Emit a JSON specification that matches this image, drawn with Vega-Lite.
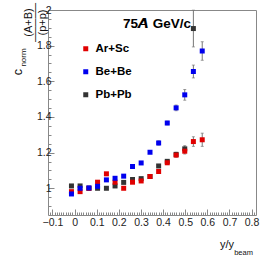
{
  "$schema": "https://vega.github.io/schema/vega-lite/v6.json",
  "width": 208,
  "height": 205,
  "autosize": {"type": "none"},
  "padding": {"left": 48, "top": 10, "right": 10, "bottom": 41},
  "background": "white",
  "config": {
    "view": {"stroke": "#888", "strokeWidth": 1},
    "font": "Liberation Sans",
    "axis": {"grid": false, "domain": false, "labelFont": "Liberation Sans", "titleFont": "Liberation Sans", "titleFontWeight": "normal", "titleColor": "#111", "labelColor": "#222", "tickColor": "#888", "titleAnchor": null}
  },
  "title": {"text": "75𝘼 GeV/c", "fontSize": 13.5, "fontWeight": "bold", "font": "Liberation Sans", "anchor": "start", "dx": 75, "dy": 22, "offset": -17, "baseline": "alphabetic", "color": "#000", "frame": "group"},
  "data": {"values": [
    {"x": -0.014, "c": 1.013, "err": 0.006, "sys": "Pb+Pb"},
    {"x": 0.025, "c": 1.013, "err": 0.006, "sys": "Pb+Pb"},
    {"x": 0.065, "c": 1.0, "err": 0.006, "sys": "Pb+Pb"},
    {"x": 0.104, "c": 1.0, "err": 0.006, "sys": "Pb+Pb"},
    {"x": 0.144, "c": 1.0, "err": 0.006, "sys": "Pb+Pb"},
    {"x": 0.183, "c": 1.013, "err": 0.006, "sys": "Pb+Pb"},
    {"x": 0.222, "c": 1.033, "err": 0.006, "sys": "Pb+Pb"},
    {"x": 0.262, "c": 1.049, "err": 0.006, "sys": "Pb+Pb"},
    {"x": 0.301, "c": 1.054, "err": 0.006, "sys": "Pb+Pb"},
    {"x": 0.341, "c": 1.066, "err": 0.006, "sys": "Pb+Pb"},
    {"x": 0.380, "c": 1.125, "err": 0.008, "sys": "Pb+Pb"},
    {"x": 0.419, "c": 1.151, "err": 0.008, "sys": "Pb+Pb"},
    {"x": 0.459, "c": 1.19, "err": 0.012, "sys": "Pb+Pb"},
    {"x": 0.498, "c": 1.221, "err": 0.018, "sys": "Pb+Pb"},
    {"x": 0.537, "c": 1.896, "err": 0.103, "sys": "Pb+Pb"},
    {"x": -0.014, "c": 0.981, "err": 0.006, "sys": "Ar+Sc"},
    {"x": 0.025, "c": 0.981, "err": 0.006, "sys": "Ar+Sc"},
    {"x": 0.065, "c": 1.0, "err": 0.006, "sys": "Ar+Sc"},
    {"x": 0.104, "c": 1.034, "err": 0.006, "sys": "Ar+Sc"},
    {"x": 0.144, "c": 1.081, "err": 0.006, "sys": "Ar+Sc"},
    {"x": 0.183, "c": 1.034, "err": 0.006, "sys": "Ar+Sc"},
    {"x": 0.222, "c": 1.0, "err": 0.006, "sys": "Ar+Sc"},
    {"x": 0.262, "c": 1.034, "err": 0.006, "sys": "Ar+Sc"},
    {"x": 0.301, "c": 1.041, "err": 0.006, "sys": "Ar+Sc"},
    {"x": 0.341, "c": 1.066, "err": 0.006, "sys": "Ar+Sc"},
    {"x": 0.380, "c": 1.094, "err": 0.006, "sys": "Ar+Sc"},
    {"x": 0.419, "c": 1.143, "err": 0.01, "sys": "Ar+Sc"},
    {"x": 0.459, "c": 1.186, "err": 0.012, "sys": "Ar+Sc"},
    {"x": 0.498, "c": 1.208, "err": 0.016, "sys": "Ar+Sc"},
    {"x": 0.537, "c": 1.262, "err": 0.027, "sys": "Ar+Sc"},
    {"x": 0.577, "c": 1.272, "err": 0.037, "sys": "Ar+Sc"},
    {"x": -0.014, "c": 0.968, "err": 0.006, "sys": "Be+Be"},
    {"x": 0.025, "c": 1.0, "err": 0.006, "sys": "Be+Be"},
    {"x": 0.065, "c": 1.002, "err": 0.006, "sys": "Be+Be"},
    {"x": 0.104, "c": 1.011, "err": 0.006, "sys": "Be+Be"},
    {"x": 0.144, "c": 1.047, "err": 0.006, "sys": "Be+Be"},
    {"x": 0.183, "c": 1.056, "err": 0.006, "sys": "Be+Be"},
    {"x": 0.222, "c": 1.068, "err": 0.006, "sys": "Be+Be"},
    {"x": 0.262, "c": 1.122, "err": 0.006, "sys": "Be+Be"},
    {"x": 0.301, "c": 1.142, "err": 0.006, "sys": "Be+Be"},
    {"x": 0.341, "c": 1.202, "err": 0.006, "sys": "Be+Be"},
    {"x": 0.380, "c": 1.254, "err": 0.012, "sys": "Be+Be"},
    {"x": 0.419, "c": 1.366, "err": 0.01, "sys": "Be+Be"},
    {"x": 0.459, "c": 1.451, "err": 0.016, "sys": "Be+Be"},
    {"x": 0.498, "c": 1.524, "err": 0.03, "sys": "Be+Be"},
    {"x": 0.537, "c": 1.655, "err": 0.036, "sys": "Be+Be"},
    {"x": 0.577, "c": 1.770, "err": 0.052, "sys": "Be+Be"}
  ]},
  "resolve": {"axis": {"x": "independent", "y": "independent"}},
  "layer": [
    {
      "mark": {"type": "errorbar", "color": "#777", "thickness": 1, "ticks": {"size": 3, "color": "#777"}},
      "encoding": {
        "x": {"field": "x", "type": "quantitative", "scale": {"domain": [-0.12, 0.82], "nice": false, "zero": false},
          "axis": {"orient": "bottom", "values": [-0.11,-0.1,-0.09,-0.08,-0.07,-0.06,-0.05,-0.04,-0.03,-0.02,-0.01,0,0.01,0.02,0.03,0.04,0.05,0.06,0.07,0.08,0.09,0.1,0.11,0.12,0.13,0.14,0.15,0.16,0.17,0.18,0.19,0.2,0.21,0.22,0.23,0.24,0.25,0.26,0.27,0.28,0.29,0.3,0.31,0.32,0.33,0.34,0.35,0.36,0.37,0.38,0.39,0.4,0.41,0.42,0.43,0.44,0.45,0.46,0.47,0.48,0.49,0.5,0.51,0.52,0.53,0.54,0.55,0.56,0.57,0.58,0.59,0.6,0.61,0.62,0.63,0.64,0.65,0.66,0.67,0.68,0.69,0.7,0.71,0.72,0.73,0.74,0.75,0.76,0.77,0.78,0.79,0.8,0.81],
            "labelExpr": "abs(datum.value*10 - round(datum.value*10)) < 0.001 ? format(datum.value, '~g') : ''",
            "tickSize": {"condition": {"test": "abs(datum.value*10 - round(datum.value*10)) < 0.001", "value": -6}, "value": -3},
            "labelFontSize": 10.5, "labelPadding": 8, "labelOverlap": false, "labelBound": false, "labelFlush": false,
            "title": "y/y", "titleFontSize": 11, "titleX": 178.5, "titleY": 32, "titleAlign": "center", "titleBaseline": "alphabetic"}},
        "y": {"field": "c", "type": "quantitative", "scale": {"domain": [0.85, 2.0], "nice": false, "zero": false},
          "axis": {"orient": "left", "values": [0.9,0.95,1,1.05,1.1,1.15,1.2,1.25,1.3,1.35,1.4,1.45,1.5,1.55,1.6,1.65,1.7,1.75,1.8,1.85,1.9,1.95,2],
            "labelExpr": "abs(datum.value*5 - round(datum.value*5)) < 0.001 ? format(datum.value, '~g') : ''",
            "tickSize": {"condition": {"test": "abs(datum.value*5 - round(datum.value*5)) < 0.001", "value": -6}, "value": -3},
            "labelFontSize": 10.5, "labelPadding": 3, "labelOverlap": false, "labelBound": false, "labelFlush": false,
            "title": ["(A+B)", "─────", "(p+p)"], "titleFontSize": 11, "titleLineHeight": 7, "titleX": -20, "titleY": 12, "titleAngle": -90, "titleAlign": "center", "titleBaseline": "middle"}},
        "yError": {"field": "err"}
      }
    },
    {
      "transform": [{"filter": "datum.sys == 'Pb+Pb'"}],
      "mark": {"type": "square", "size": 25, "opacity": 1},
      "encoding": {
        "x": {"field": "x", "type": "quantitative", "axis": {"orient": "bottom", "labels": false, "ticks": false, "domain": false, "title": ["beam"], "titleFontSize": 7.5, "titleX": 195, "titleY": 39, "titleAlign": "center", "titleBaseline": "alphabetic"}},
        "y": {"field": "c", "type": "quantitative", "axis": {"orient": "left", "labels": false, "ticks": false, "domain": false, "title": ["c"], "titleFontSize": 12.5, "titleX": -30.5, "titleY": 61.5, "titleAngle": -90, "titleAlign": "center", "titleBaseline": "middle", "titleLineHeight": 12}},
        "color": {"field": "sys", "type": "nominal", "scale": {"domain": ["Ar+Sc", "Be+Be", "Pb+Pb"], "range": ["#e00000", "#0000ee", "#333333"]},
          "legend": {"orient": "none", "legendX": 32, "legendY": 33, "title": null, "symbolType": "square", "symbolSize": 25, "symbolStrokeWidth": 0, "labelFont": "Liberation Sans", "labelFontSize": 11.5, "labelFontWeight": "bold", "labelColor": "#000", "labelOffset": 4, "rowPadding": 10, "padding": 0}}
      }
    },
    {
      "transform": [{"filter": "datum.sys != 'Pb+Pb'"}],
      "mark": {"type": "square", "size": 25, "opacity": 1},
      "encoding": {
        "x": {"field": "x", "type": "quantitative", "axis": null},
        "y": {"field": "c", "type": "quantitative", "axis": {"orient": "left", "labels": false, "ticks": false, "domain": false, "title": ["norm"], "titleFontSize": 8, "titleX": -24.5, "titleY": 47, "titleAngle": -90, "titleAlign": "center", "titleBaseline": "middle", "titleLineHeight": 8}},
        "color": {"field": "sys", "type": "nominal"}
      }
    }
  ]
}
